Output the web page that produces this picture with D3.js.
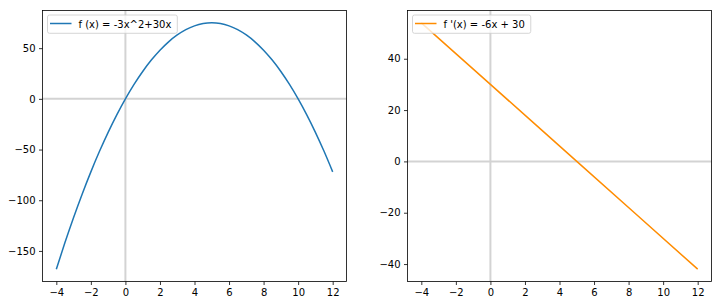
<!DOCTYPE html>
<html>
<head>
<meta charset="utf-8">
<script src="https://cdn.jsdelivr.net/npm/d3@7"></script>
<style>
    body { margin: 0; background: #fff; }
    text { font-family: "DejaVu Sans", sans-serif; }
</style>
</head>
<body>
<div id="graph"></div>
<script>
// values
var xValues = [-4, -3.5, -3, -2.5, -2, -1.5, -1, -0.5, 0, 0.5, 1, 1.5, 2, 2.5, 3, 3.5, 4,
    4.5, 5, 5.5, 6, 6.5, 7, 7.5, 8, 8.5, 9, 9.5, 10, 10.5, 11, 11.5, 12];
var fValues = [-168, -141.75, -117, -93.75, -72, -51.75, -33, -15.75, 0, 14.25, 27, 38.25, 48,
    56.25, 63, 68.25, 72, 74.25, 75, 74.25, 72, 68.25, 63, 56.25, 48, 38.25, 27, 14.25, 0,
    -15.75, -33, -51.75, -72];
var dxValues = [-4, 0, 5, 12];
var dValues = [54, 30, 0, -42];

var xTicks = [-4, -2, 0, 2, 4, 6, 8, 10, 12];
var fTicks = [-150, -100, -50, 0, 50];
var dTicks = [-40, -20, 0, 20, 40];

var svgWidth = 721;
var svgHeight = 306;

var svg = d3.select("#graph")
    .append("svg")
    .attr("width", svgWidth)
    .attr("height", svgHeight);

function drawPanel(opts) {
    let g = svg.append("g");

    let xScale = d3.scaleLinear()
        .domain([-4.8, 12.8])
        .range([opts.left, opts.right]);

    let yScale = d3.scaleLinear()
        .domain(opts.yDomain)
        .range([opts.bottom, opts.top]);

    // light reference lines at x=0 and y=0
    g.append("line")
        .attr("x1", xScale(0)).attr("x2", xScale(0))
        .attr("y1", opts.top).attr("y2", opts.bottom)
        .attr("stroke", "#d3d3d3")
        .attr("stroke-width", 2);
    g.append("line")
        .attr("x1", opts.left).attr("x2", opts.right)
        .attr("y1", yScale(0)).attr("y2", yScale(0))
        .attr("stroke", "#d3d3d3")
        .attr("stroke-width", 2);

    let line = d3.line()
        .x((d, i) => xScale(opts.xs[i]))
        .y((d) => yScale(d))
        .curve(d3.curveMonotoneX);

    g.append("path")
        .datum(opts.ys)
        .attr("d", line)
        .attr("fill", "none")
        .attr("stroke", opts.color)
        .attr("stroke-width", 1.5);

    let xAxis = d3.axisBottom(xScale)
        .tickValues(xTicks)
        .tickSizeInner(3.5)
        .tickSizeOuter(0)
        .tickPadding(3.5);
    let yAxis = d3.axisLeft(yScale)
        .tickValues(opts.yTicks)
        .tickSizeInner(3.5)
        .tickSizeOuter(0)
        .tickPadding(3.5);

    let gx = g.append("g")
        .attr("transform", "translate(0," + opts.bottom + ")")
        .call(xAxis);
    let gy = g.append("g")
        .attr("transform", "translate(" + opts.left + ",0)")
        .call(yAxis);

    [gx, gy].forEach((a) => {
        a.select(".domain").remove();
        a.selectAll("line").attr("stroke", "#000").attr("stroke-width", 0.8);
        a.selectAll("text")
            .attr("font-size", "10px")
            .attr("fill", "#000")
            .style("font-family", "DejaVu Sans");
    });

    // frame
    g.append("rect")
        .attr("x", opts.left)
        .attr("y", opts.top)
        .attr("width", opts.right - opts.left)
        .attr("height", opts.bottom - opts.top)
        .attr("fill", "none")
        .attr("stroke", "#000")
        .attr("stroke-width", 0.8);

    // legend
    let lg = g.append("g")
        .attr("transform", "translate(" + (opts.left + 5) + "," + (opts.top + 4.5) + ")");
    let lt = lg.append("text")
        .attr("x", 31)
        .attr("y", 12.5)
        .attr("font-size", "10px")
        .attr("fill", "#000")
        .text(opts.label);
    let tw = lt.node().getComputedTextLength();
    lg.insert("rect", "text")
        .attr("x", 0)
        .attr("y", 0)
        .attr("width", 31 + tw + 6)
        .attr("height", 18.3)
        .attr("rx", 2)
        .attr("fill", "#fff")
        .attr("fill-opacity", 0.8)
        .attr("stroke", "#ccc")
        .attr("stroke-width", 0.8);
    lg.insert("line", "text")
        .attr("x1", 2.5).attr("x2", 24)
        .attr("y1", 8.5).attr("y2", 8.5)
        .attr("stroke", opts.color)
        .attr("stroke-width", 1.5);
}

drawPanel({
    left: 42.5, right: 346.5, top: 10.5, bottom: 281.5,
    xs: xValues, ys: fValues,
    yDomain: [-180.15, 87.15], yTicks: fTicks,
    color: "#1f77b4",
    label: "f (x) = -3x^2+30x"
});

drawPanel({
    left: 407.5, right: 711.5, top: 10.5, bottom: 281.5,
    xs: dxValues, ys: dValues,
    yDomain: [-46.8, 58.8], yTicks: dTicks,
    color: "#ff8c00",
    label: "f '(x) = -6x + 30"
});
</script>
</body>
</html>
